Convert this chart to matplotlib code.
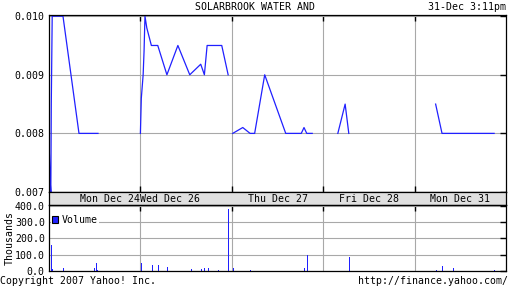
import numpy as np
import matplotlib
matplotlib.use('Agg')
import matplotlib.pyplot as plt
from matplotlib.patches import Patch

# price line (x = trading day index, day k spans [k, k+1]); NaN breaks the line
price_x = [0.003, 0.010, 0.020, 0.025, 0.035, 0.153, 0.328, 0.536, np.nan,
           1.000, 1.010, 1.030, 1.040, 1.050, 1.070, 1.120, 1.190, 1.290, 1.410,
           1.540, 1.660, 1.700, 1.730, 1.890, 1.960, np.nan,
           2.010, 2.120, 2.200, 2.250, 2.360, 2.590, 2.760, 2.790, 2.820, 2.880, np.nan,
           3.160, 3.240, 3.280, np.nan,
           4.230, 4.300, 4.870]
price_y = [0.00775, 0.00725, 0.00700, 0.00850, 0.01000, 0.01000, 0.00800, 0.00800, np.nan,
           0.00800, 0.00860, 0.00900, 0.00940, 0.01000, 0.00980, 0.00950, 0.00950, 0.00900, 0.00950,
           0.00900, 0.00918, 0.00900, 0.00950, 0.00950, 0.00900, np.nan,
           0.00800, 0.00810, 0.00800, 0.00800, 0.00900, 0.00800, 0.00800, 0.00810, 0.00800, 0.00800, np.nan,
           0.00800, 0.00850, 0.00800, np.nan,
           0.00850, 0.00800, 0.00800]

# volume in thousands
vol_x = [0.000, 0.025, 0.036, 0.156, 0.487, 0.511, 0.525, 1.003, 1.124, 1.196, 1.294,
         1.550, 1.660, 1.700, 1.736, 1.846, 1.955, 2.016, 2.199, 2.793, 2.826,
         3.286, 4.234, 4.303, 4.423, 4.872]
vol_k = [27, 162, 12, 20, 20, 50, 5, 50, 37, 37, 27,
         12, 12, 20, 20, 5, 381, 20, 5, 20, 100,
         83, 6, 33, 20, 6]

day_labels = ['Mon Dec 24', 'Wed Dec 26', 'Thu Dec 27', 'Fri Dec 28', 'Mon Dec 31']
price_ticks = [0.007, 0.008, 0.009, 0.010]
vol_ticks = [0, 100, 200, 300, 400]

BLUE = '#2020ff'
GRID = '#a8a8a8'
MONO = 'DejaVu Sans Mono'
FS = 7.1

fig = plt.figure(figsize=(5.12, 2.88), dpi=100)
L, W = 49 / 512, 457 / 512

def fig_rect(top_px, bottom_px):
    return [L, 1 - bottom_px / 288, W, (bottom_px - top_px) / 288]

def style_spines(a):
    for s in a.spines.values():
        s.set_color('black')
        s.set_linewidth(0.9)

# main price panel
ax = fig.add_axes(fig_rect(15, 192))
ax.plot(price_x, price_y, color=BLUE, lw=0.9)
ax.set_xlim(0, len(day_labels))
ax.set_ylim(0.007, 0.01002)
ax.set_xticks(range(1, len(day_labels)))
ax.set_xticklabels([])
ax.set_yticks(price_ticks)
ax.set_yticklabels(['%.3f' % v for v in price_ticks], family=MONO, fontsize=FS)
ax.grid(True, color=GRID, lw=0.8)
ax.set_axisbelow(True)
ax.tick_params(direction='in', length=4, width=1, color='black',
               left=False, right=True, top=True, bottom=True, pad=3)
style_spines(ax)

# date strip
axd = fig.add_axes(fig_rect(192, 205))
axd.set_facecolor('#e0e0e0')
axd.set_xlim(0, len(day_labels))
axd.set_ylim(0, 1)
axd.set_xticks([])
axd.set_yticks([])
style_spines(axd)
for i, lab in enumerate(day_labels):
    if i == 0:
        axd.text(i + 1, 0.45, lab, ha='right', va='center', family=MONO, fontsize=FS)
    elif i == 1:
        axd.text(i, 0.45, lab, ha='left', va='center', family=MONO, fontsize=FS)
    else:
        axd.text(i + 0.5, 0.45, lab, ha='center', va='center', family=MONO, fontsize=FS)

# volume panel
axv = fig.add_axes(fig_rect(205, 271))
axv.vlines(vol_x, 0, vol_k, color=BLUE, lw=0.6, antialiased=False)
axv.set_xlim(0, len(day_labels))
axv.set_ylim(0, 405)
axv.set_xticks(range(1, len(day_labels)))
axv.set_xticklabels([])
axv.set_yticks(vol_ticks)
axv.set_yticklabels(['%.1f' % v for v in vol_ticks], family=MONO, fontsize=FS)
axv.grid(True, color=GRID, lw=0.8)
axv.set_axisbelow(True)
axv.tick_params(direction='in', length=4, width=1, color='black',
                left=False, right=True, top=True, bottom=False, pad=3)
style_spines(axv)
axv.set_ylabel('Thousands', family=MONO, fontsize=FS, labelpad=0)
axv.legend(handles=[Patch(facecolor=BLUE, edgecolor='black', lw=0.8, label='Volume')],
           loc='upper left', bbox_to_anchor=(0.0, 0.9), frameon=True,
           fancybox=False, edgecolor='none', framealpha=1.0,
           prop={'family': MONO, 'size': FS},
           handlelength=0.6, handleheight=0.6, handletextpad=0.3,
           borderpad=0.15, borderaxespad=0.2)

# header / footer text
fig.text(0.499, 0.976, 'SOLARBROOK WATER AND', ha='center', va='center',
         family=MONO, fontsize=FS)
fig.text(0.988, 0.976, '31-Dec 3:11pm', ha='right', va='center',
         family=MONO, fontsize=FS)
fig.text(0.0, 0.024, 'Copyright 2007 Yahoo! Inc.', ha='left', va='center',
         family=MONO, fontsize=FS)
fig.text(0.992, 0.024, 'http://finance.yahoo.com/', ha='right', va='center',
         family=MONO, fontsize=FS)

fig.savefig('out.png', dpi=100, facecolor='white')
